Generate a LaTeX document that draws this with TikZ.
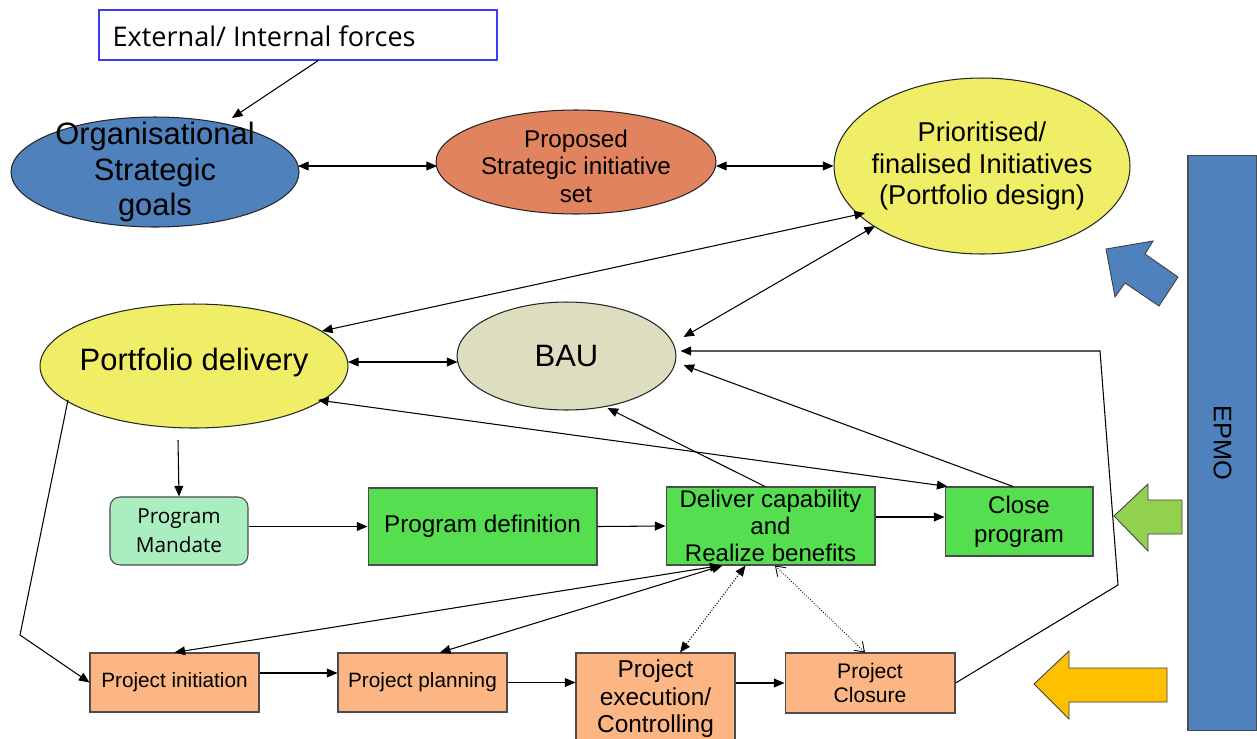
\documentclass[tikz,border=0pt]{standalone}
\usepackage{fontspec}
\setmainfont{Liberation Sans}
\newfontfamily\opensans{Open Sans}
\usetikzlibrary{arrows.meta,calc,shapes.geometric}
\definecolor{blueF}{RGB}{79,129,189}
\definecolor{coralF}{RGB}{225,131,94}
\definecolor{yellowF}{RGB}{240,238,102}
\definecolor{bauF}{RGB}{221,221,192}
\definecolor{mandF}{RGB}{170,238,192}
\definecolor{greenF}{RGB}{85,223,80}
\definecolor{orangeF}{RGB}{251,182,132}
\definecolor{arrGreen}{RGB}{146,208,80}
\definecolor{arrYellow}{RGB}{255,192,0}
\definecolor{extBlue}{RGB}{60,60,245}
\begin{document}
\begin{tikzpicture}[x=0.02cm,y=-0.02cm,
  arr/.style={-{Triangle[length=6pt,width=5pt]}, line width=0.6pt},
  darr/.style={{Triangle[length=6pt,width=5pt]}-{Triangle[length=6pt,width=5pt]}, line width=0.6pt},
  openarr/.style={{Straight Barb[length=5pt,width=7pt]}-{Straight Barb[length=5pt,width=7pt]}, line width=0.5pt, densely dotted},
  ell/.style={ellipse, draw=black!85, line width=0.6pt, inner sep=0pt},
  box/.style={rectangle, draw=black!70, line width=0.6pt, inner sep=0pt, align=center},
  bigarrow/.style={draw=black!75, line width=0.5pt},
]
\useasboundingbox (0,0) rectangle (1257,738);

% EPMO bar
\node[box, fill=blueF, minimum width=1.38cm, minimum height=11.52cm] (epmo) at (1222.5,443) {};
\node[rotate=-90, font=\fontsize{14.4pt}{16pt}\selectfont] at (epmo.center) {EPMO};

% big arrows
\draw[bigarrow, fill=blueF] (1106,249) -- (1153,241) -- (1145,254) -- (1178,277) -- (1159,306) -- (1125,283) -- (1115,297) -- cycle;
\draw[bigarrow, fill=arrGreen] (1114,516) -- (1148,484) -- (1148,500) -- (1182,500) -- (1182,534) -- (1148,534) -- (1148,551) -- cycle;
\draw[bigarrow, fill=arrYellow] (1034,684) -- (1069,651) -- (1069,668) -- (1167,668) -- (1167,702) -- (1069,702) -- (1069,719) -- cycle;

% top box
\node[rectangle, draw=extBlue, line width=0.8pt, minimum width=7.96cm, minimum height=1cm, inner sep=0pt] (ext) at (298,35) {};
\node[anchor=west, inner sep=0pt, font=\opensans\fontsize{15.4pt}{18pt}\selectfont] at ($(ext.west)+(14,1)$) {External/ Internal forces};

% ellipses
\node[ell, fill=blueF, minimum width=5.76cm, minimum height=2.2cm] (org) at (155,172) {};
\node[align=center, font=\fontsize{17.6pt}{20.4pt}\selectfont] at (org.center) {Organisational\\Strategic\\goals};

\node[ell, fill=coralF, minimum width=5.6cm, minimum height=2.08cm] (prop) at (576,162) {};
\node[align=center, font=\fontsize{13.8pt}{15.6pt}\selectfont] at ($(prop.center)+(0,4)$) {Proposed\\Strategic initiative\\set};

\node[ell, fill=yellowF, minimum width=5.92cm, minimum height=3.52cm] (prio) at (982,166) {};
\node[align=center, font=\fontsize{15.5pt}{17.9pt}\selectfont] at (prio.center) {Prioritised/\\finalised Initiatives\\(Portfolio design)};

\node[ell, fill=yellowF, minimum width=6.16cm, minimum height=2.48cm] (port) at (194,366) {};
\node[font=\fontsize{17.6pt}{20.4pt}\selectfont] at ($(port.center)+(0,-4)$) {Portfolio delivery};

\node[ell, fill=bauF, minimum width=4.38cm, minimum height=2.16cm] (bau) at (566.5,356) {};
\node[font=\fontsize{17.6pt}{20.4pt}\selectfont] at (bau.center) {BAU};

% program row
\node[box, fill=mandF, rounded corners=0.2cm, minimum width=2.76cm, minimum height=1.36cm, font=\opensans\fontsize{11.8pt}{16.4pt}\selectfont] (mandate) at (179,531) {Program\\Mandate};
\node[box, fill=greenF, minimum width=4.58cm, minimum height=1.54cm, font=\fontsize{13.8pt}{15.6pt}\selectfont] (def) at (482.5,526.5) {Program definition};
\node[box, fill=greenF, minimum width=4.18cm, minimum height=1.56cm, font=\fontsize{13.7pt}{15.3pt}\selectfont] (deliver) at (770.5,526) {Deliver capability\\and\\Realize benefits};
\node[box, fill=greenF, minimum width=2.96cm, minimum height=1.38cm, font=\fontsize{13.7pt}{16.4pt}\selectfont] (close) at (1019,521.5) {Close\\program};

% project row
\node[box, fill=orangeF, minimum width=3.38cm, minimum height=1.18cm, font=\fontsize{11.8pt}{14pt}\selectfont] (init) at (174.5,682.5) {Project initiation};
\node[box, fill=orangeF, minimum width=3.38cm, minimum height=1.18cm, font=\fontsize{11.8pt}{14pt}\selectfont] (plan) at (422.5,682.5) {Project planning};
\node[box, fill=orangeF, minimum width=3.18cm, minimum height=1.84cm, font=\fontsize{13.9pt}{15.6pt}\selectfont] (exec) at (655.5,699) {Project\\execution/\\Controlling};
\node[box, fill=orangeF, minimum width=3.4cm, minimum height=1.2cm, font=\fontsize{12pt}{13.6pt}\selectfont] (closure) at (870,683) {Project\\Closure};

% connectors
\draw[arr] ($(ext.south)+(20,0)$) -- ($(org.center)+(77,-54)$);
\draw[darr] ($(org.center)+(143,-6)$) -- ($(prop.center)+(-139,4)$);
\draw[darr] ($(prop.center)+(140,4)$) -- (prio.west);
\draw[darr] ($(prio.center)+(-117,47)$) -- ($(port.center)+(128,-35)$);
\draw[darr] ($(prio.center)+(-107,60)$) -- ($(bau.center)+(117,-19)$);
\draw[darr] ($(port.center)+(154,-4)$) -- ($(bau.center)+(-109,6)$);
\draw[arr] ($(close.north)+(-6,0)$) -- ($(bau.center)+(117,9)$);
\draw[arr] ($(deliver.north)+(-5.5,0)$) -- ($(bau.center)+(41,52)$);
\draw[darr] ($(close.north west)+(3,0)$) -- ($(port.center)+(124,34)$);
\draw[arr] ($(port.center)+(-16,74)$) -- (mandate.north);
\draw[arr] (mandate.east |- def.west) -- (def.west);
\draw[arr] (def.east) -- (deliver.west);
\draw[arr] ($(deliver.east)+(0,-9)$) -- ($(close.west)+(0,-4.5)$);
\coordinate (bendL) at (20,635);
\draw[arr] ($(port.center)+(-126,34)$) -- (bendL) -- (init.west);
\draw[arr] ($(init.east)+(0,-9.5)$) -- ($(plan.west)+(0,-9.5)$);
\draw[arr] (plan.east) -- (plan.east -| exec.west);
\draw[arr] (closure.west -| exec.east) -- (closure.west);
\coordinate (bendR1) at (1118,585);
\coordinate (bendR2) at (1100,351);
\draw[arr] (closure.east) -- (bendR1) -- (bendR2) -- ($(bau.center)+(114,-5)$);
\draw[darr] ($(deliver.south)+(-50,0)$) -- (init.north);
\draw[darr] ($(deliver.south)+(-48,0)$) -- ($(plan.north)+(17.5,0)$);
\draw[darr, densely dotted] ($(deliver.south)+(-25,0)$) -- ($(exec.north)+(24.5,0)$);
\draw[openarr] ($(deliver.south)+(4.5,0)$) -- ($(closure.north)+(-5,0)$);
\end{tikzpicture}
\end{document}
